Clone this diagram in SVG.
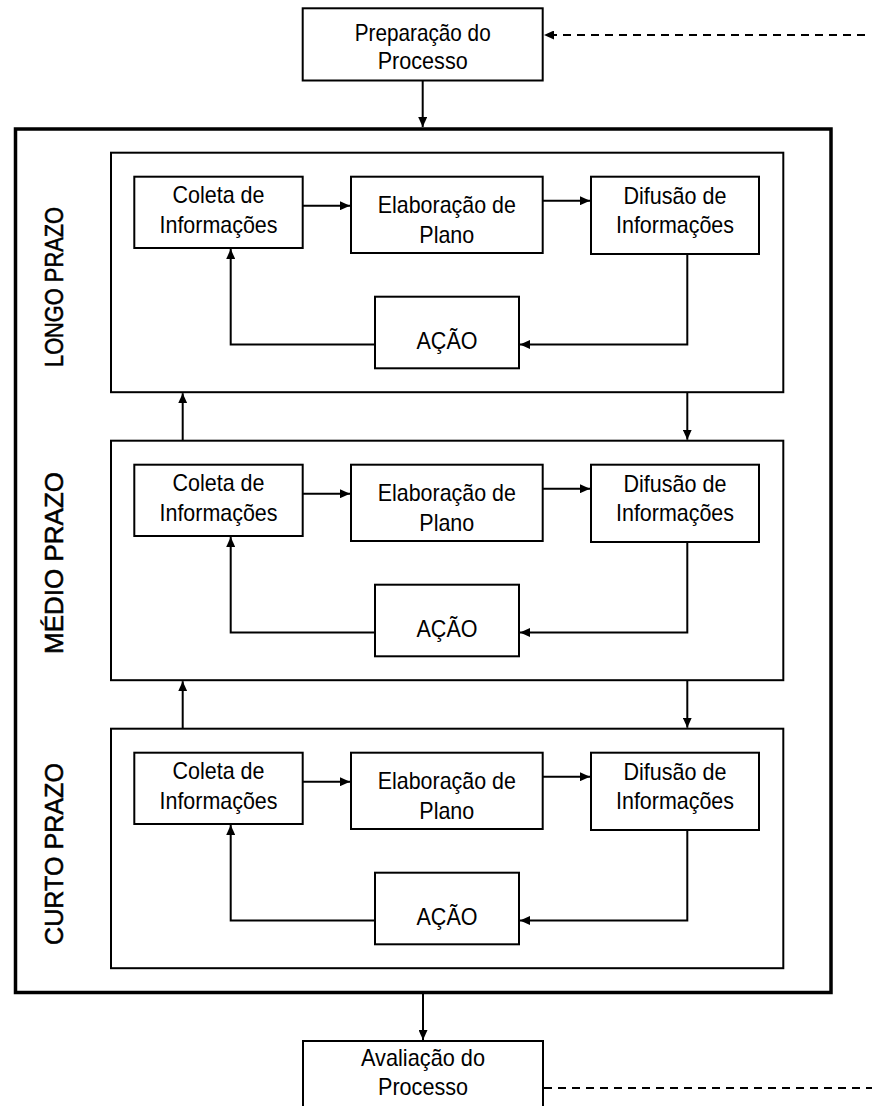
<svg xmlns="http://www.w3.org/2000/svg" width="872" height="1106" viewBox="0 0 872 1106">
  <style>
    .box { fill: #ffffff; stroke: #000000; stroke-width: 2; }
    .panel { fill: none; stroke: #000000; stroke-width: 2; }
    .frame { fill: none; stroke: #000000; stroke-width: 3.5; }
    .lbl { font-family: "Liberation Sans", Arial, sans-serif; font-size: 24px; fill: #000000; text-anchor: middle; }
    .side { font-family: "Liberation Sans", Arial, sans-serif; font-size: 25px; fill: #000000; stroke: #000000; stroke-width: 0.5; text-anchor: middle; }
    .wire { fill: none; stroke: #000000; stroke-width: 2; }
    .dash { fill: none; stroke: #000000; stroke-width: 2; stroke-dasharray: 8 6; }
  </style>
  <defs>
    <marker id="arrow" markerUnits="userSpaceOnUse" markerWidth="11" markerHeight="9" refX="10" refY="4.5" orient="auto">
      <path d="M0,0 L10,4.5 L0,9 Z" fill="#000000"/>
    </marker>
  </defs>

  <rect width="872" height="1106" fill="#ffffff"/>

  <!-- outer frame around the three planning horizons -->
  <g id="frame">
    <rect class="frame" x="15.5" y="129" width="815.5" height="863.5"/>
  </g>

  <!-- process start / end -->
  <g id="preparacao">
    <rect class="box" x="302.7" y="8.3" width="240" height="72.2"/>
    <text class="lbl" x="422.7" y="41" textLength="136" lengthAdjust="spacingAndGlyphs">Preparação do</text>
    <text class="lbl" x="422.7" y="69" textLength="90" lengthAdjust="spacingAndGlyphs">Processo</text>
  </g>
  <g id="avaliacao">
    <rect class="box" x="303" y="1041" width="240" height="80"/>
    <text class="lbl" x="423" y="1066" textLength="124" lengthAdjust="spacingAndGlyphs">Avaliação do</text>
    <text class="lbl" x="423" y="1095" textLength="90" lengthAdjust="spacingAndGlyphs">Processo</text>
  </g>

  <!-- horizon labels -->
  <g id="label-longo">
    <text class="side" transform="translate(63,287) rotate(-90)" x="0" y="0" textLength="160" lengthAdjust="spacingAndGlyphs">LONGO PRAZO</text>
  </g>
  <g id="label-medio">
    <text class="side" transform="translate(63,563) rotate(-90)" x="0" y="0" textLength="182" lengthAdjust="spacingAndGlyphs">MÉDIO PRAZO</text>
  </g>
  <g id="label-curto">
    <text class="side" transform="translate(63,854) rotate(-90)" x="0" y="0" textLength="182" lengthAdjust="spacingAndGlyphs">CURTO PRAZO</text>
  </g>

  <!-- long term cycle -->
  <g id="longo">
    <rect class="panel" x="111" y="152.7" width="672.3" height="239.5"/>
    <g id="longo-coleta">
      <rect class="box" x="134.3" y="176.7" width="168.4" height="71.3"/>
      <text class="lbl" x="218.5" y="202.7" textLength="92" lengthAdjust="spacingAndGlyphs">Coleta de</text>
      <text class="lbl" x="218.5" y="232.7" textLength="118" lengthAdjust="spacingAndGlyphs">Informações</text>
    </g>
    <g id="longo-elaboracao">
      <rect class="box" x="351" y="176.7" width="191.7" height="76.3"/>
      <text class="lbl" x="446.8" y="213" textLength="138" lengthAdjust="spacingAndGlyphs">Elaboração de</text>
      <text class="lbl" x="446.8" y="243" textLength="55" lengthAdjust="spacingAndGlyphs">Plano</text>
    </g>
    <g id="longo-difusao">
      <rect class="box" x="591" y="176.7" width="168" height="77.3"/>
      <text class="lbl" x="675" y="204" textLength="103" lengthAdjust="spacingAndGlyphs">Difusão de</text>
      <text class="lbl" x="675" y="233" textLength="118" lengthAdjust="spacingAndGlyphs">Informações</text>
    </g>
    <g id="longo-acao">
      <rect class="box" x="375" y="296.7" width="144" height="71.6"/>
      <text class="lbl" x="447" y="349" textLength="61" lengthAdjust="spacingAndGlyphs">AÇÃO</text>
    </g>
  </g>

  <!-- medium term cycle -->
  <g id="medio">
    <rect class="panel" x="111" y="440.7" width="672.3" height="239.5"/>
    <g id="medio-coleta">
      <rect class="box" x="134.3" y="464.7" width="168.4" height="71.3"/>
      <text class="lbl" x="218.5" y="490.7" textLength="92" lengthAdjust="spacingAndGlyphs">Coleta de</text>
      <text class="lbl" x="218.5" y="520.7" textLength="118" lengthAdjust="spacingAndGlyphs">Informações</text>
    </g>
    <g id="medio-elaboracao">
      <rect class="box" x="351" y="464.7" width="191.7" height="76.3"/>
      <text class="lbl" x="446.8" y="501" textLength="138" lengthAdjust="spacingAndGlyphs">Elaboração de</text>
      <text class="lbl" x="446.8" y="531" textLength="55" lengthAdjust="spacingAndGlyphs">Plano</text>
    </g>
    <g id="medio-difusao">
      <rect class="box" x="591" y="464.7" width="168" height="77.3"/>
      <text class="lbl" x="675" y="492" textLength="103" lengthAdjust="spacingAndGlyphs">Difusão de</text>
      <text class="lbl" x="675" y="521" textLength="118" lengthAdjust="spacingAndGlyphs">Informações</text>
    </g>
    <g id="medio-acao">
      <rect class="box" x="375" y="584.7" width="144" height="71.6"/>
      <text class="lbl" x="447" y="637" textLength="61" lengthAdjust="spacingAndGlyphs">AÇÃO</text>
    </g>
  </g>

  <!-- short term cycle -->
  <g id="curto">
    <rect class="panel" x="111" y="728.7" width="672.3" height="239.5"/>
    <g id="curto-coleta">
      <rect class="box" x="134.3" y="752.7" width="168.4" height="71.3"/>
      <text class="lbl" x="218.5" y="778.7" textLength="92" lengthAdjust="spacingAndGlyphs">Coleta de</text>
      <text class="lbl" x="218.5" y="808.7" textLength="118" lengthAdjust="spacingAndGlyphs">Informações</text>
    </g>
    <g id="curto-elaboracao">
      <rect class="box" x="351" y="752.7" width="191.7" height="76.3"/>
      <text class="lbl" x="446.8" y="789" textLength="138" lengthAdjust="spacingAndGlyphs">Elaboração de</text>
      <text class="lbl" x="446.8" y="819" textLength="55" lengthAdjust="spacingAndGlyphs">Plano</text>
    </g>
    <g id="curto-difusao">
      <rect class="box" x="591" y="752.7" width="168" height="77.3"/>
      <text class="lbl" x="675" y="780" textLength="103" lengthAdjust="spacingAndGlyphs">Difusão de</text>
      <text class="lbl" x="675" y="809" textLength="118" lengthAdjust="spacingAndGlyphs">Informações</text>
    </g>
    <g id="curto-acao">
      <rect class="box" x="375" y="872.7" width="144" height="71.6"/>
      <text class="lbl" x="447" y="925" textLength="61" lengthAdjust="spacingAndGlyphs">AÇÃO</text>
    </g>
  </g>

  <!-- connectors -->
  <g id="connectors">
    <!-- entry / exit of the frame -->
    <line class="wire" x1="422.7" y1="80.5" x2="422.7" y2="127" marker-end="url(#arrow)"/>
    <line class="wire" x1="423" y1="994" x2="423" y2="1040" marker-end="url(#arrow)"/>
    <path class="dash" d="M865,35 H544" marker-end="url(#arrow)"/>
    <path class="dash" d="M544,1088 H872"/>

    <!-- long term loop -->
    <line class="wire" x1="302.7" y1="205.7" x2="350" y2="205.7" marker-end="url(#arrow)"/>
    <line class="wire" x1="542.7" y1="200.7" x2="590" y2="200.7" marker-end="url(#arrow)"/>
    <path class="wire" d="M687.3,254 V344.5 H520" marker-end="url(#arrow)"/>
    <path class="wire" d="M375,344.5 H230.7 V249" marker-end="url(#arrow)"/>

    <!-- medium term loop -->
    <line class="wire" x1="302.7" y1="493.7" x2="350" y2="493.7" marker-end="url(#arrow)"/>
    <line class="wire" x1="542.7" y1="488.7" x2="590" y2="488.7" marker-end="url(#arrow)"/>
    <path class="wire" d="M687.3,542 V632.5 H520" marker-end="url(#arrow)"/>
    <path class="wire" d="M375,632.5 H230.7 V537" marker-end="url(#arrow)"/>

    <!-- short term loop -->
    <line class="wire" x1="302.7" y1="781.7" x2="350" y2="781.7" marker-end="url(#arrow)"/>
    <line class="wire" x1="542.7" y1="776.7" x2="590" y2="776.7" marker-end="url(#arrow)"/>
    <path class="wire" d="M687.3,830 V920.5 H520" marker-end="url(#arrow)"/>
    <path class="wire" d="M375,920.5 H230.7 V825" marker-end="url(#arrow)"/>

    <!-- links between horizons -->
    <line class="wire" x1="687.3" y1="392.2" x2="687.3" y2="439.7" marker-end="url(#arrow)"/>
    <line class="wire" x1="182.7" y1="440.7" x2="182.7" y2="393.2" marker-end="url(#arrow)"/>
    <line class="wire" x1="687.3" y1="680.2" x2="687.3" y2="727.7" marker-end="url(#arrow)"/>
    <line class="wire" x1="182.7" y1="728.7" x2="182.7" y2="681.2" marker-end="url(#arrow)"/>
  </g>
</svg>
